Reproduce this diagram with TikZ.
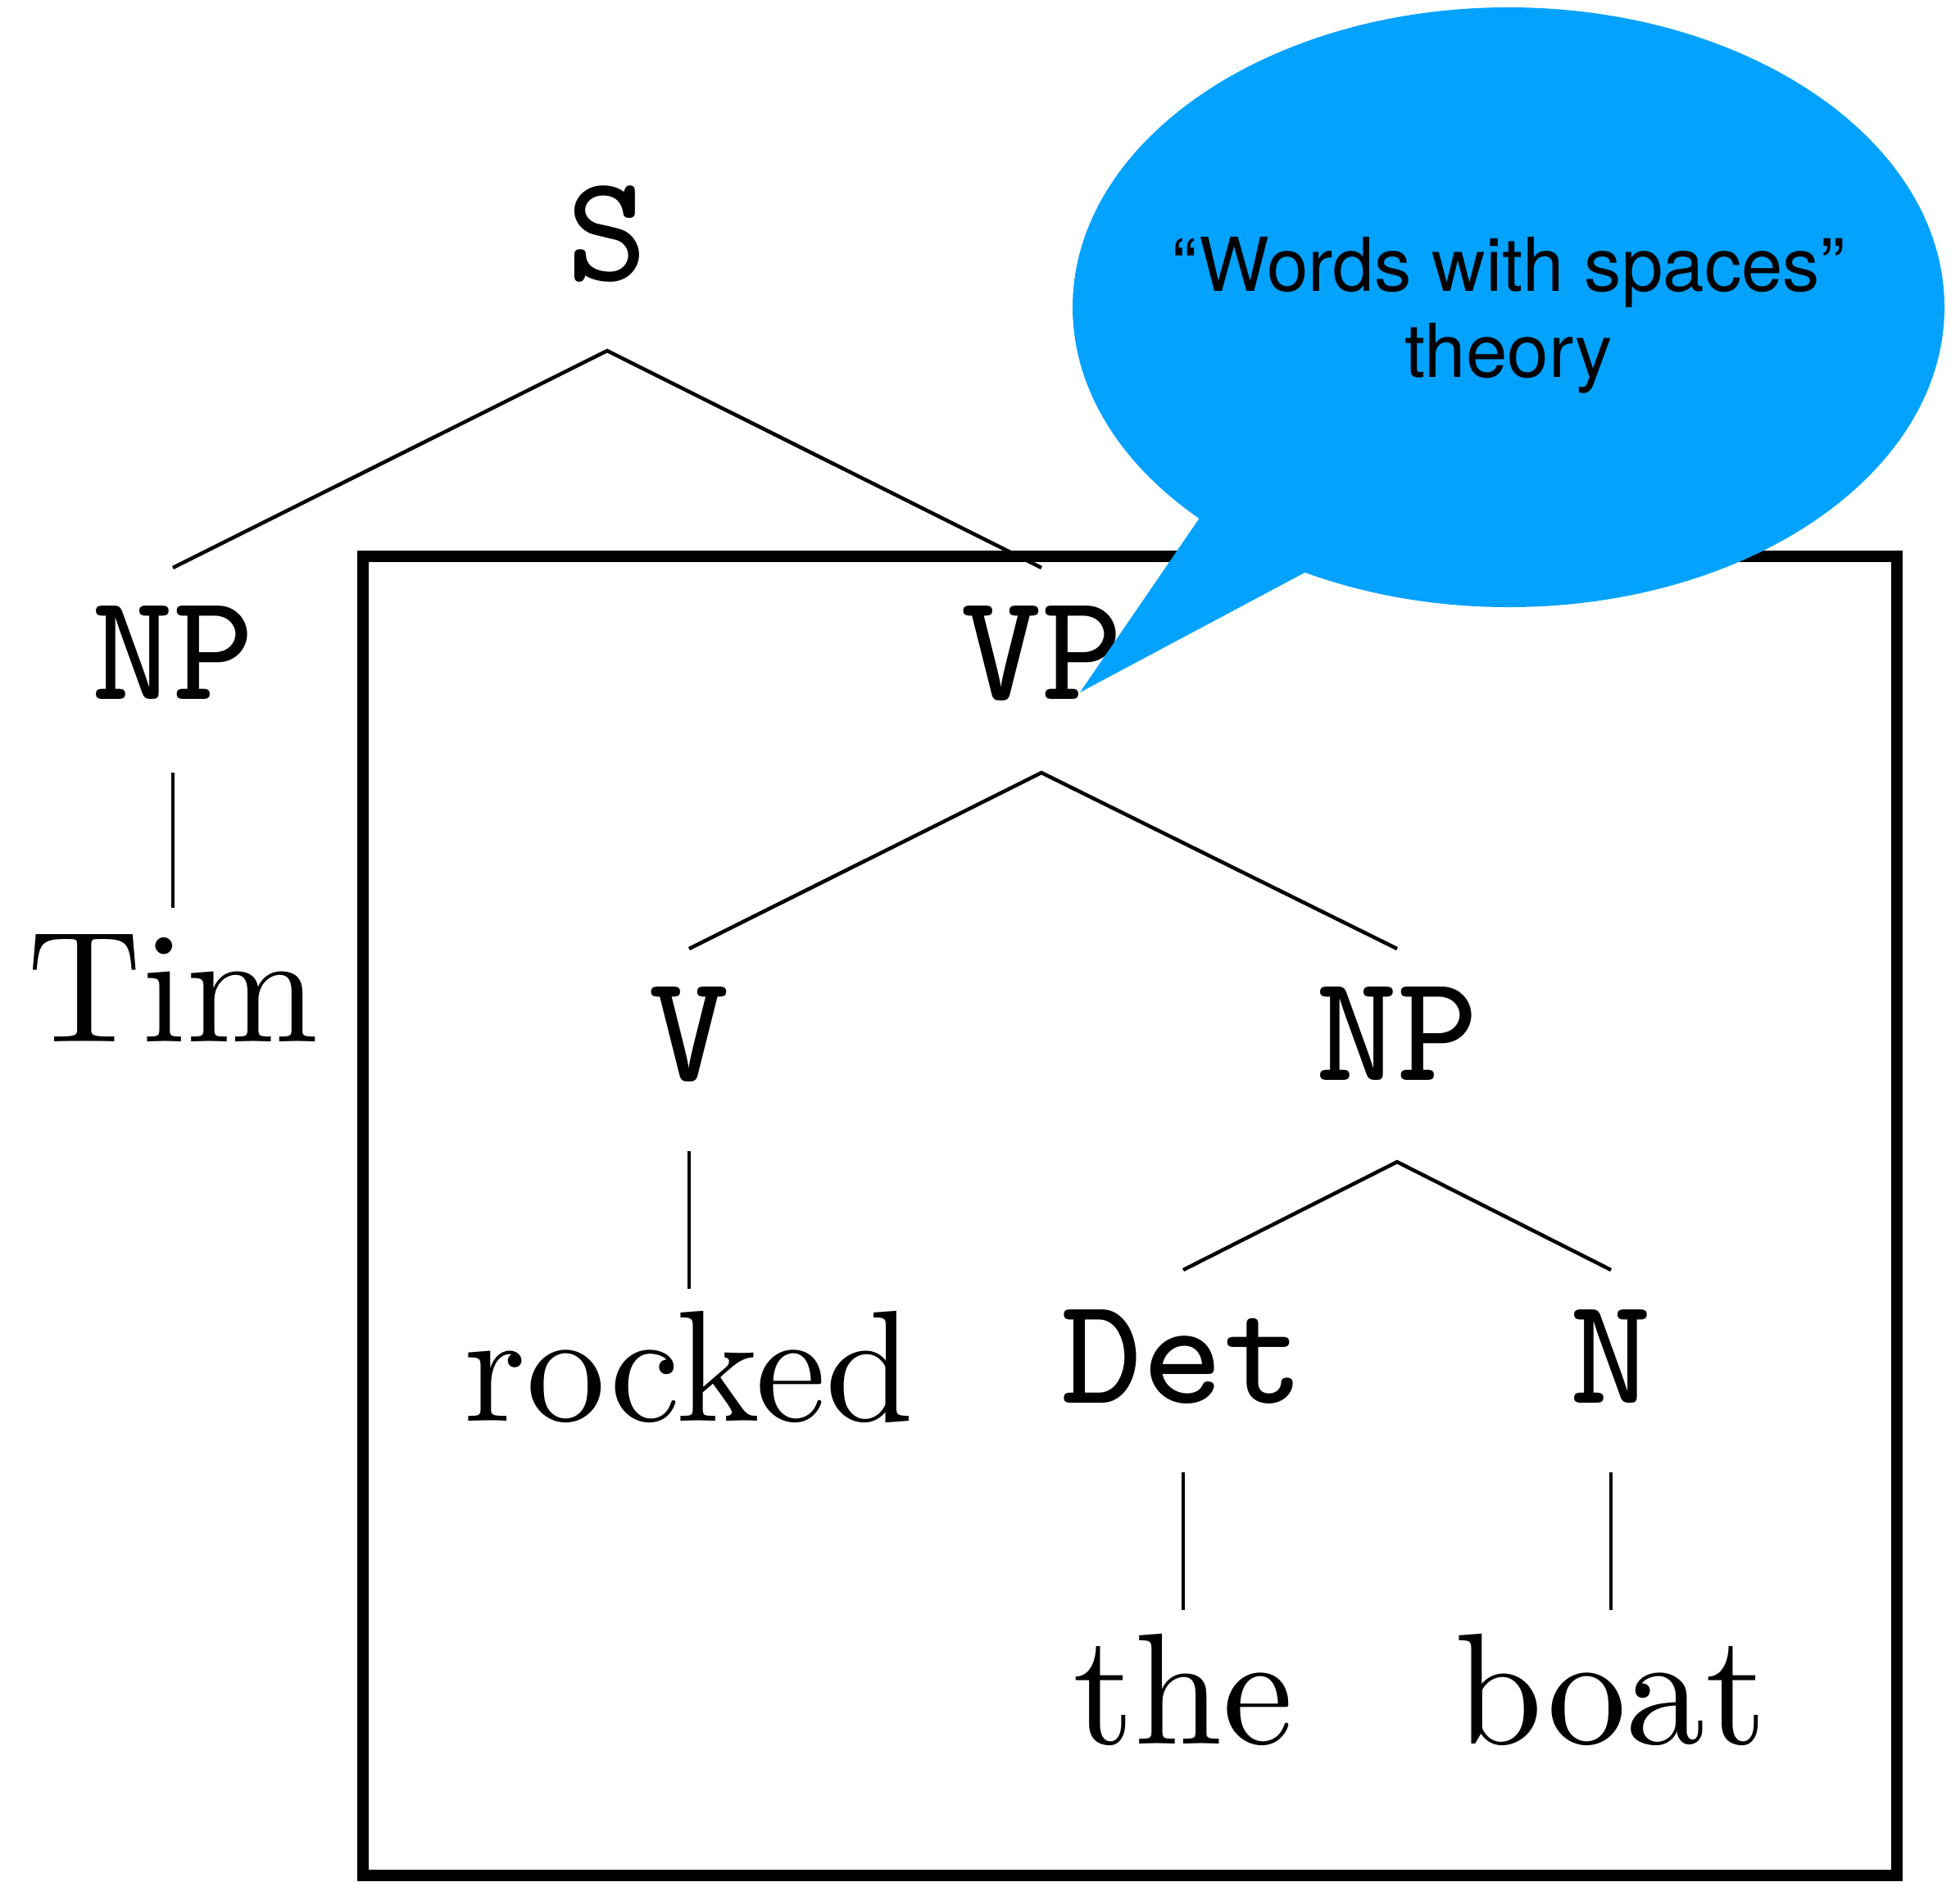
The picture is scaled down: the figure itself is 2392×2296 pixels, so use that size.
\documentclass[tikz,border=0pt]{standalone}
\usepackage{fontspec}
\newfontfamily\herosfont{TeX Gyre Heros}
\newfontfamily\romanten{lmroman10-regular.otf}
\newfontfamily\monoten{lmmono8-regular.otf}
\definecolor{bubbleblue}{RGB}{3,162,255}
\begin{document}
\begin{tikzpicture}[x=0.01cm,y=-0.01cm,
  lab/.style={font=\fontsize{53}{60}\selectfont\monoten, anchor=base, inner sep=0pt},
  word/.style={font=\fontsize{55}{66}\selectfont\romanten, anchor=base, inner sep=0pt},
  branch/.style={line width=0.045cm},
  frame/.style={line width=0.14cm},
  talk/.style={font=\fontsize{25.8}{30}\selectfont\herosfont, anchor=base, inner sep=0pt}]
\useasboundingbox (0,0) rectangle (2392,2296);
% tree nodes
\node[lab] (S) at (741,342) {S};
\node[lab] (NPa) at (211,853) {NP};
\node[lab] (VP) at (1271,853) {VP};
\node[word] (Tim) at (211,1271) {Tim};
\node[lab] (V) at (841,1318) {V};
\node[lab] (NPb) at (1705,1318) {NP};
\node[word] (rocked) at (841,1734) {rocked};
\node[lab] (Det) at (1444,1712) {Det};
\node[lab] (N) at (1966,1712) {N};
\node[word] (the) at (1444,2128) {the};
\node[word] (boat) at (1966,2128) {boat};
% branches
\draw[branch] ([yshift=1.60cm]NPa.base) -- ([yshift=-0.86cm]S.base) -- ([yshift=1.60cm]VP.base);
\draw[branch] ([yshift=-0.90cm]NPa.base) -- ([yshift=1.63cm]Tim.base);
\draw[branch] ([yshift=1.60cm]V.base) -- ([yshift=-0.90cm]VP.base) -- ([yshift=1.60cm]NPb.base);
\draw[branch] ([yshift=-0.87cm]V.base) -- ([yshift=1.61cm]rocked.base);
\draw[branch] ([yshift=1.62cm]Det.base) -- ([yshift=-1.00cm]NPb.base) -- ([yshift=1.62cm]N.base);
\draw[branch] ([yshift=-0.85cm]Det.base) -- ([yshift=1.63cm]the.base);
\draw[branch] ([yshift=-0.85cm]N.base) -- ([yshift=1.63cm]boat.base);
% frame
\draw[frame] (443,679) rectangle (2315,2289);
% speech bubble
\fill[bubbleblue] (1841,375) ellipse [x radius=532, y radius=366];
\fill[bubbleblue] (1464,632) -- (1318,845) -- (1592,699) -- (1600,600) -- cycle;
\node[talk] (t1) at (1841,355) {“Words with spaces”};
\node[talk] (t2) at (1841,460) {theory};
\end{tikzpicture}
\end{document}
